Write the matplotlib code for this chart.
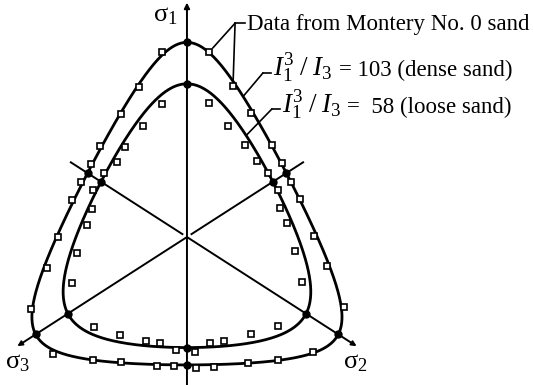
import numpy as np
import matplotlib.pyplot as plt

plt.rcParams['font.family'] = ['Liberation Serif', 'DejaVu Serif']
plt.rcParams['mathtext.fontset'] = 'custom'
plt.rcParams['mathtext.rm'] = 'Liberation Serif'
plt.rcParams['mathtext.it'] = 'Liberation Serif:italic'

# Lade failure criterion, I1^3 / I3 = eta
eta_dense = 103
eta_loose = 58

# Monterey No. 0 sand test points on the octahedral plane
# (x to the right, y along sigma1, radius in units of mean stress)
dense_x = [-0.095, 0.084, -0.183, 0.175, -0.251, 0.243, -0.331, -0.365, -0.403, -0.437,
           -0.490, -0.532, -0.593, -0.510, -0.357, -0.251, -0.114, -0.049, 0.034, 0.103,
           0.232, 0.346, 0.479, 0.597, 0.532, 0.483, 0.430, 0.395, 0.361, 0.323]
dense_y = [0.631, 0.631, 0.512, 0.515, 0.420, 0.423, 0.311, 0.249, 0.188, 0.126,
           0.000, -0.106, -0.246, -0.399, -0.420, -0.427, -0.440, -0.440, -0.447, -0.444,
           -0.430, -0.420, -0.392, -0.239, -0.099, 0.003, 0.130, 0.188, 0.253, 0.314]
loose_x = [-0.095, 0.084, -0.167, 0.156, -0.236, -0.266, -0.316, -0.357, -0.361, -0.380,
           -0.418, -0.437, -0.354, -0.255, -0.156, -0.103, -0.042, 0.030, 0.087, 0.141,
           0.243, 0.346, 0.437, 0.411, 0.380, 0.354, 0.346, 0.308, 0.266, 0.221]
loose_y = [0.454, 0.457, 0.379, 0.379, 0.307, 0.256, 0.218, 0.160, 0.096, 0.041,
           -0.055, -0.157, -0.307, -0.334, -0.355, -0.362, -0.386, -0.392, -0.362, -0.355,
           -0.331, -0.304, -0.154, -0.048, 0.048, 0.099, 0.160, 0.218, 0.259, 0.314]

# principal stress axes, angle clockwise from sigma1
axis_labels = [r'$\mathrm{\sigma}_1$', r'$\mathrm{\sigma}_2$', r'$\mathrm{\sigma}_3$']
axis_angles = [0, 120, -120]


def lade_radius(theta, eta):
    # bisection for the radius where sigma1*sigma2*sigma3 = I1^3/27/eta (p = 1)
    theta = np.asarray(theta, dtype=float)
    lo = np.zeros_like(theta)
    hi = np.full_like(theta, 0.99)
    target = 27.0 / eta
    for _ in range(60):
        mid = 0.5 * (lo + hi)
        prod = np.ones_like(theta)
        for a in np.radians(axis_angles):
            prod = prod * (1 + 2 * mid * np.cos(theta - a))
        above = prod > target
        lo = np.where(above, mid, lo)
        hi = np.where(above, hi, mid)
    return 0.5 * (lo + hi)


def polar(r, theta):
    return r * np.sin(theta), r * np.cos(theta)


fig = plt.figure(figsize=(5.33, 3.85), dpi=100)
ax = fig.add_axes([0, 0, 1, 1])
ax.set_xlim(-0.711, 1.316)
ax.set_ylim(-0.505, 0.809)
ax.axis('off')

# axes through the hydrostatic point
ax.annotate('', xy=(0, 0.80), xytext=(0, -0.51),
            arrowprops=dict(arrowstyle='-|>', lw=1.4, color='black',
                            mutation_scale=8, shrinkA=0, shrinkB=0))
for ang in np.radians(axis_angles[1:]):
    ax.annotate('', xy=polar(0.745, ang), xytext=(0, 0),
                arrowprops=dict(arrowstyle='-|>', lw=1.4, color='black',
                                mutation_scale=7, shrinkA=0, shrinkB=0))
    back = ang + np.pi
    x0, y0 = polar(0.02, back)
    x1, y1 = polar(0.51, back)
    ax.plot([x0, x1], [y0, y1], color='black', lw=1.4)

label_pos = [(-0.084, 0.755), (0.639, -0.430), (-0.643, -0.430)]
for lab, (lx, ly) in zip(axis_labels, label_pos):
    ax.text(lx, ly, lab, fontsize=19, ha='center', va='center')

# failure surfaces
theta = np.linspace(0, 2 * np.pi, 721)
corner = np.radians(np.arange(0, 360, 60))
for eta in (eta_dense, eta_loose):
    cx, cy = polar(lade_radius(theta, eta), theta)
    ax.plot(cx, cy, color='black', lw=2.0)
    dx, dy = polar(lade_radius(corner, eta), corner)
    ax.plot(dx, dy, 'o', color='black', ms=5, zorder=4)

ax.plot(dense_x, dense_y, 's', ms=4.5, mfc='white', mec='black', mew=1.2, zorder=5)
ax.plot(loose_x, loose_y, 's', ms=4.5, mfc='white', mec='black', mew=1.2, zorder=5)

# labels with leaders
lead = dict(arrowstyle='-', lw=1.2, color='black', shrinkA=0, shrinkB=4)
ax.text(0.228, 0.727, 'Data from Montery No. 0 sand', fontsize=16.5, ha='left', va='center')
ax.plot([0.183, 0.222], [0.730, 0.730], color='black', lw=1.2)
for i in (1, 3):
    ax.annotate('', xy=(dense_x[i], dense_y[i]), xytext=(0.183, 0.730), arrowprops=lead)

ratio = r'$I_1^3\;/\;I_3$'
ax.text(0.327, 0.549, ratio, fontsize=19.5, ha='left', va='baseline')
ax.text(0.578, 0.549, f'= {eta_dense} (dense sand)', fontsize=16.5, ha='left', va='baseline')
t = np.radians(24)
ax.plot([0.289, 0.318], [0.560, 0.560], color='black', lw=1.2)
ax.annotate('', xy=polar(lade_radius(t, eta_dense), t), xytext=(0.289, 0.560),
            arrowprops=dict(lead, shrinkB=0))

ax.text(0.361, 0.423, ratio, fontsize=19.5, ha='left', va='baseline')
ax.text(0.608, 0.423, f'=  {eta_loose} (loose sand)', fontsize=16.5, ha='left', va='baseline')
t = np.radians(33)
ax.plot([0.323, 0.352], [0.437, 0.437], color='black', lw=1.2)
ax.annotate('', xy=polar(lade_radius(t, eta_loose), t), xytext=(0.323, 0.437),
            arrowprops=dict(lead, shrinkB=0))

fig.savefig('out.png', dpi=100)
